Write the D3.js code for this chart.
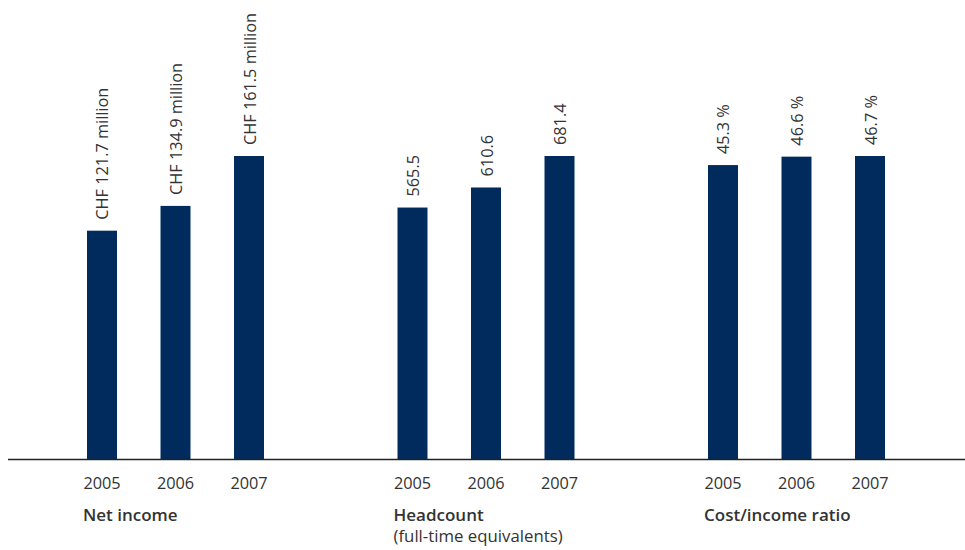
<!DOCTYPE html>
<html>
<head>
<meta charset="utf-8">
<script src="https://cdn.jsdelivr.net/npm/d3@7"></script>
<style>
  body { margin: 0; background: #fff; }
  text { font-family: "Open Sans", "Noto Sans", sans-serif; fill: #333; }
</style>
</head>
<body>
<div id="chart"></div>
<script>
// Three key figures, each with its own scale

const years = ["2005", "2006", "2007"];
const netIncome = [121.7, 134.9, 161.5];
const headcount = [565.5, 610.6, 681.4];
const costIncome = [45.3, 46.6, 46.7];
const groupTitles = ["Net income", "Headcount", "Cost/income ratio"];
const groupSubtitles = ["", "(full-time equivalents)", ""];

const width = 965, height = 550;
const baseY = 459, topY = 156;
const barColor = "#002b5c";

const groups = [
  { title: groupTitles[0], sub: groupSubtitles[0], values: netIncome, fmt: d => `CHF ${d.toFixed(1)} million` },
  { title: groupTitles[1], sub: groupSubtitles[1], values: headcount, fmt: d => d.toFixed(1) },
  { title: groupTitles[2], sub: groupSubtitles[2], values: costIncome, fmt: d => `${d.toFixed(1)} %` }
];

const svg = d3.select("#chart")
  .append("svg")
  .attr("width", width)
  .attr("height", height)
  .attr("viewBox", [0, 0, width, height]);

const xGroup = d3.scalePoint()
  .domain(groupTitles)
  .range([87, 708]);

const xYear = d3.scaleBand()
  .domain(years)
  .range([0, 177])
  .paddingInner(0.592)
  .paddingOuter(0);

const g = svg.selectAll("g.group")
  .data(groups)
  .join("g")
  .attr("class", "group")
  .attr("transform", d => `translate(${xGroup(d.title)},0)`);

g.each(function(grp) {
  const y = d3.scaleLinear()
    .domain([0, d3.max(grp.values)])
    .range([baseY, topY]);
  const sel = d3.select(this);
  const rows = grp.values.map((v, i) => ({ year: years[i], value: v }));

  sel.selectAll("rect")
    .data(rows)
    .join("rect")
    .attr("x", d => xYear(d.year))
    .attr("y", d => y(d.value))
    .attr("width", xYear.bandwidth())
    .attr("height", d => baseY - y(d.value))
    .attr("fill", barColor);

  // value labels, rotated
  sel.selectAll("text.val")
    .data(rows)
    .join("text")
    .attr("class", "val")
    .attr("transform", d => `translate(${xYear(d.year) + xYear.bandwidth() / 2 + 6.5},${y(d.value) - 11}) rotate(-90)`)
    .attr("font-size", 16.3)
    .text(d => grp.fmt(d.value));

  // year labels
  sel.selectAll("text.year")
    .data(rows)
    .join("text")
    .attr("class", "year")
    .attr("x", d => xYear(d.year) + xYear.bandwidth() / 2)
    .attr("y", 489)
    .attr("text-anchor", "middle")
    .attr("font-size", 16.3)
    .text(d => d.year);

  sel.append("text")
    .attr("x", -4)
    .attr("y", 521)
    .attr("font-size", 17)
    .style("font-weight", 600)
    .text(grp.title);

  if (grp.sub) {
    sel.append("text")
      .attr("x", -4)
      .attr("y", 542)
      .attr("font-size", 16.8)
      .text(grp.sub);
  }
});

// baseline
svg.append("line")
  .attr("x1", 8)
  .attr("x2", width)
  .attr("y1", baseY + 0.5)
  .attr("y2", baseY + 0.5)
  .attr("stroke", "#222")
  .attr("stroke-width", 1.5);
</script>
</body>
</html>
